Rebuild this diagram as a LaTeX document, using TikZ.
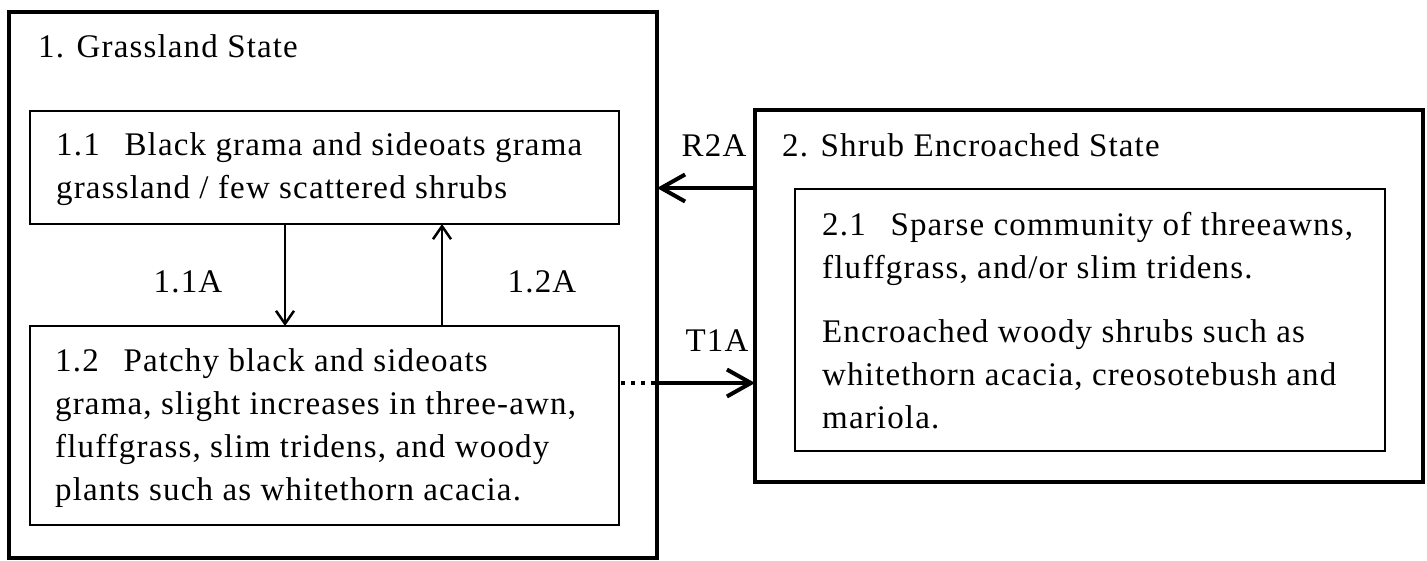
\documentclass[tikz,border=0pt]{standalone}
\usepackage{fontspec}
\setmainfont[LetterSpace=3.5]{Liberation Serif}
\usetikzlibrary{arrows.meta,positioning}

\begin{document}
\begin{tikzpicture}[x=1pt, y=1pt,
  statebox/.style={draw, line width=4.5pt, inner sep=0pt, outer sep=0pt, anchor=north west},
  phasebox/.style={draw, line width=2.2pt, inner sep=0pt, outer sep=0pt, anchor=north west},
  txt/.style={anchor=north west, inner sep=0pt, align=left, font=\fontsize{33}{43}\selectfont},
  lbl/.style={anchor=base, inner sep=0pt, font=\fontsize{33}{43}\selectfont},
  arr/.style={line width=2.5pt, -{Straight Barb[length=13pt, width=18pt]}},
  bigarr/.style={line width=4pt, -{Straight Barb[length=24pt, width=27pt]}},
  dots/.style={line width=3.5pt, dash pattern=on 4pt off 6pt}]
\useasboundingbox (0,0) rectangle (1427,-561);
% states and their phases
\node[statebox, minimum width=648pt, minimum height=546pt] (g1) at (9,-12) {};
\node[phasebox, minimum width=589pt, minimum height=113pt] (g11) at (30,-111) {};
\node[phasebox, minimum width=589pt, minimum height=199pt] (g12) at (30,-326) {};
\node[statebox, minimum width=668pt, minimum height=372pt] (s2) at (755,-110) {};
\node[phasebox, minimum width=590pt, minimum height=262pt] (s21) at (795,-189) {};
% texts
\node[txt] (tx1) at (38,-34.5) {1. Grassland State};
\node[txt] (tx11) at (56,-132.5) {1.1\hspace{.75em}Black grama and sideoats grama\\grassland / few scattered shrubs};
\node[txt] (tx12) at (55,-348.5) {1.2\hspace{.75em}Patchy black and sideoats\\grama, slight increases in three-awn,\\fluffgrass, slim tridens, and woody\\plants such as whitethorn acacia.};
\node[txt] (tx2) at (782,-133.5) {2. Shrub Encroached State};
\node[txt] (tx21) at (822,-212.5) {2.1\hspace{.75em}Sparse community of threeawns,\\fluffgrass, and/or slim tridens.\\[21pt]Encroached woody shrubs such as\\whitethorn acacia, creosotebush and\\mariola.};
% transitions
\draw[arr] (g11.south west) ++(255,0) coordinate (d1) -- (d1 |- g12.north);
\draw[arr] (g12.north west) ++(412,0) coordinate (u1) -- (u1 |- g11.south);
\draw[bigarr] (s2.north west) ++(0,-78) coordinate (r1) -- (r1 -| g1.east);
\draw[dots] (g12.north east) ++(2,-57) coordinate (tA) -- (tA -| g1.east) coordinate (tB);
\draw[bigarr] (tB) -- (tB -| s2.west);
\foreach \n/\x/\y/\t in {a/188/293/1.1A, b/542/293/1.2A, c/714/157/R2A, d/717/352/T1A}
  { \node[lbl] (lab\n) at (\x,-\y) {\t}; }
\end{tikzpicture}
\end{document}
